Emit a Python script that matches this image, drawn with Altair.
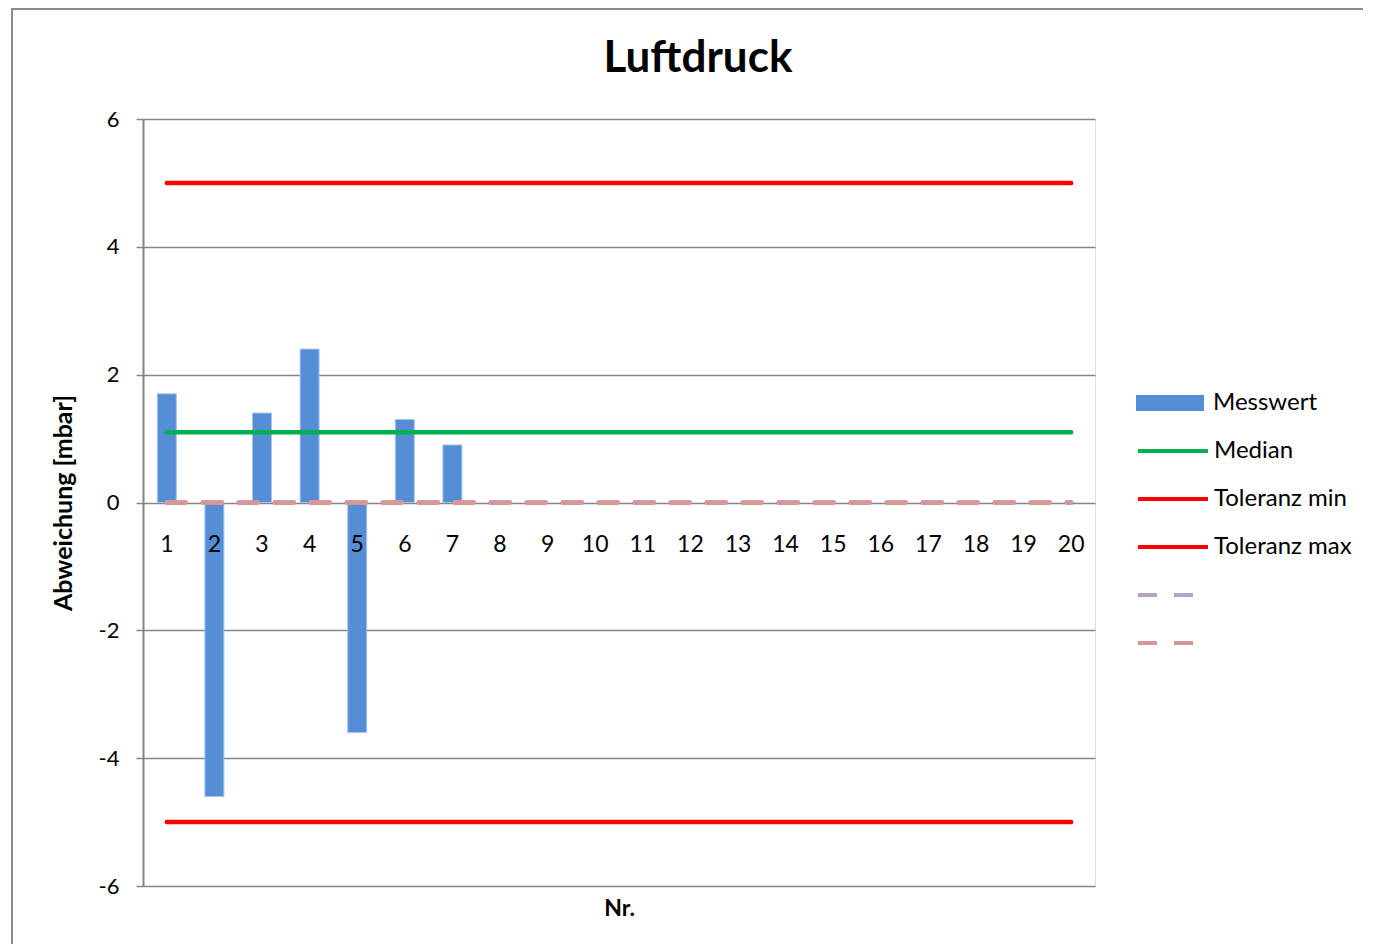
import altair as alt
import pandas as pd

# ---- data ----
nr = list(range(1, 21))
messwert_nr = [1, 2, 3, 4, 5, 6, 7]
messwert = [1.7, -4.6, 1.4, 2.4, -3.6, 1.3, 0.9]
median = 1.1
tol_min = -5
tol_max = 5
reihe5 = 0
reihe6 = 0
y_ticks = [-6, -4, -2, 0, 2, 4, 6]

line_series = ["Median", "Toleranz min", "Toleranz max", "Reihe5", "Reihe6"]
line_levels = [median, tol_min, tol_max, reihe5, reihe6]
line_colors = ["#00B050", "#FF0000", "#FF0000", "#B3A2C7", "#D99694"]
line_dashes = [[1, 0], [1, 0], [1, 0], [19, 17], [19, 17]]

bars_df = pd.DataFrame({"Nr": messwert_nr, "Wert": messwert, "Reihe": "Messwert"})
lines_df = pd.DataFrame(
    [{"Nr": n, "Wert": v, "Reihe": s}
     for s, v in zip(line_series, line_levels) for n in nr]
)
labels_df = pd.DataFrame({"Nr": nr, "Wert": 0})

FONT = "Lato"
GRAY = "#868686"
LABEL_EXPR = "indexof(['Median','Toleranz min','Toleranz max'], datum.label) >= 0 ? datum.label : ''"

x_enc = alt.X("Nr:O", scale=alt.Scale(domain=nr, paddingInner=0, paddingOuter=0),
              axis=alt.Axis(title="Nr.", labels=False, ticks=False, domain=False,
                            titleFont=FONT, titleFontSize=23, titleFontWeight="bold",
                            titleColor="black", titlePadding=11))
y_scale = alt.Scale(domain=[-6, 6], nice=False)

bars = alt.Chart(bars_df).mark_bar(size=19, stroke="#A9C3EA", strokeWidth=1).encode(
    x=x_enc,
    y=alt.Y("Wert:Q", scale=y_scale,
            axis=alt.Axis(values=y_ticks, title="Abweichung [mbar]", grid=True,
                          labelExpr="toString(datum.value)",
                          gridColor=GRAY, gridWidth=1.3, domainColor=GRAY, domainWidth=2,
                          tickColor=GRAY, tickSize=7, tickWidth=1.5,
                          labelFont=FONT, labelFontSize=22, labelColor="black",
                          labelPadding=17,
                          titleFont=FONT, titleFontSize=25, titleFontWeight="bold",
                          titleColor="black", titlePadding=22)),
    fill=alt.Fill("Reihe:N", scale=alt.Scale(domain=["Messwert"], range=["#558ED5"]),
                  legend=alt.Legend(title=None, orient="none", legendX=993, legendY=274,
                                    symbolType="M-1,-0.235H1V0.235H-1Z", symbolSize=4624,
                                    symbolStrokeWidth=0, labelFont=FONT, labelFontSize=24,
                                    labelColor="black", labelOffset=9, clipHeight=20,
                                    labelLimit=300)),
)

line_legend = alt.Legend(title=None, orient="none", legendX=993, legendY=322,
                         symbolType="stroke", symbolSize=4900,
                         symbolStrokeWidth=4, labelFont=FONT,
                         labelFontSize=24, labelColor="black",
                         labelOffset=4, clipHeight=20, rowPadding=24,
                         labelLimit=300, labelExpr=LABEL_EXPR)

lines = alt.Chart(lines_df).mark_line(strokeWidth=4.5, strokeCap="round").encode(
    x=alt.X("Nr:O"),
    y=alt.Y("Wert:Q"),
    detail="Reihe:N",
    stroke=alt.Stroke("Reihe:N",
                      scale=alt.Scale(domain=line_series, range=line_colors),
                      legend=line_legend),
    strokeDash=alt.StrokeDash("Reihe:N",
                              scale=alt.Scale(domain=line_series, range=line_dashes),
                              legend=line_legend),
)

xlabels = alt.Chart(labels_df).mark_text(font=FONT, fontSize=23, color="black",
                                         baseline="middle", dy=42).encode(
    x=alt.X("Nr:O"),
    y=alt.Y("Wert:Q"),
    text=alt.Text("Nr:O"),
)

frame = alt.Chart(pd.DataFrame({"k": [0]})).mark_rect(
    filled=False, stroke="#8C8C8C", strokeWidth=2
).encode(
    x=alt.value(-131), x2=alt.value(1300), y=alt.value(-110), y2=alt.value(900)
)

chart = alt.layer(bars, lines, xlabels, frame).resolve_legend(
    fill="independent", stroke="shared"
).properties(
    width=952,
    height=767,
    title=alt.TitleParams("Luftdruck", font=FONT, fontSize=44, fontWeight="bold",
                          color="black", anchor="middle", frame="group", dx=79,
                          offset=-73),
    autosize=alt.AutoSizeParams(type="none"),
    padding={"left": 135, "top": 111, "right": 268, "bottom": 58},
).configure_view(stroke=None).configure(background="white")

chart.save("out.html", embed_options={"renderer": "svg", "actions": False})
